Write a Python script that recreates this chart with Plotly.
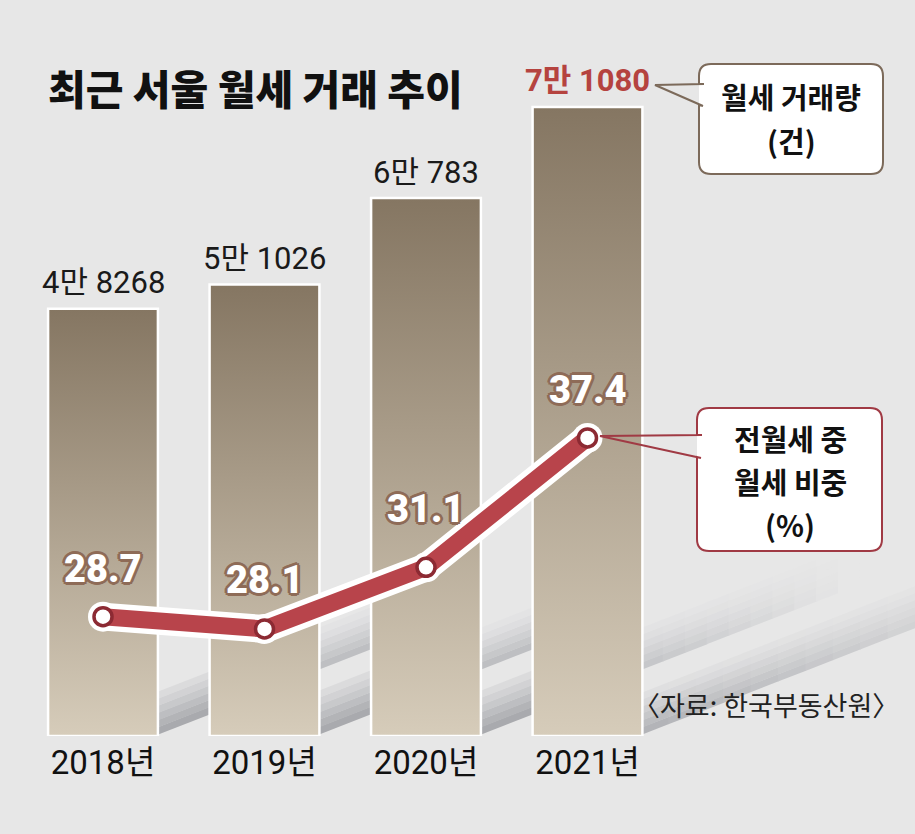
import plotly.graph_objects as go

# ---------------- data ----------------
years = ["2018년", "2019년", "2020년", "2021년"]
monthly_rent_deals = [48268, 51026, 60783, 71080]          # 월세 거래량 (건)
deal_labels = ["4만 8268", "5만 1026", "6만 783", "7만 1080"]
rent_share = [28.7, 28.1, 31.1, 37.4]                      # 전월세 중 월세 비중 (%)

title_text = "최근 서울 월세 거래 추이"
box1_lines = ["월세 거래량", "(건)"]
box2_lines = ["전월세 중", "월세 비중", "(%)"]
source_text = "〈자료: 한국부동산원〉"

# ---------------- layout constants ----------------
W, H = 915, 834
BG = "#e7e7e7"
NUM_FONT = "Roboto, Liberation Sans, Noto Sans CJK KR"
KR_FONT = "Noto Sans CJK KR, Noto Sans, sans-serif"


def px(x):
    return x / W


def py(y):
    return 1 - y / H


xs = list(range(len(years)))
half_w = 0.34

fig = go.Figure()

# bars with vertical gradient
for i, v in enumerate(monthly_rent_deals):
    fig.add_trace(go.Scatter(
        x=[i - half_w, i - half_w, i + half_w, i + half_w, i - half_w],
        y=[0, v, v, 0, 0],
        mode="lines", fill="toself",
        fillgradient=dict(type="vertical",
                          colorscale=[[0, "#d6ccba"], [1, "#857662"]]),
        line=dict(color="white", width=2.5),
        hoverinfo="skip", showlegend=False, yaxis="y"))

# line (white halo + red line + markers)
fig.add_trace(go.Scatter(
    x=xs, y=rent_share, mode="lines+markers", yaxis="y2",
    line=dict(color="white", width=28),
    marker=dict(size=30, color="white"),
    hoverinfo="skip", showlegend=False))
fig.add_trace(go.Scatter(
    x=xs, y=rent_share, mode="lines+markers", yaxis="y2",
    line=dict(color="#b8444b", width=17),
    marker=dict(size=18, color="white", line=dict(color="#8c2a33", width=3.5)),
    hoverinfo="skip", showlegend=False))

annotations = []

# title
annotations.append(dict(
    text=title_text, x=px(46), y=py(87), xref="paper", yref="paper",
    xanchor="left", yanchor="middle", showarrow=False,
    font=dict(family=KR_FONT, size=41, color="#111111", weight=900)))

# bar value labels
for i, (v, lab) in enumerate(zip(monthly_rent_deals, deal_labels)):
    last = i == len(monthly_rent_deals) - 1
    annotations.append(dict(
        text=lab, x=i, y=v, xref="x", yref="y", yanchor="middle", yshift=26,
        showarrow=False,
        font=dict(family=NUM_FONT, size=31,
                  color="#b5433f" if last else "#1a1a1a",
                  weight=700 if last else 400)))

# line value labels (white with brown outline)
outline = "#8e6b57"
shadow = ", ".join(f"{dx}px {dy}px 0 {outline}" for dx, dy in
                   [(2, 2), (-2, -2), (2, -2), (-2, 2), (0, 3), (0, -3), (3, 0), (-3, 0)])
label_shift = [48, 49, 58, 48]
for i, v in enumerate(rent_share):
    annotations.append(dict(
        text=f"{v:.1f}", x=i, y=v, xref="x", yref="y2", yanchor="middle",
        yshift=label_shift[i], showarrow=False,
        font=dict(family=NUM_FONT, size=38, color="white", weight=900,
                  shadow=shadow)))

# callout texts
for k, line in enumerate(box1_lines):
    annotations.append(dict(
        text=line, x=px(791), y=py(96 + 44 * k), xref="paper", yref="paper",
        xanchor="center", yanchor="middle", showarrow=False,
        font=dict(family=KR_FONT, size=29, color="#111111", weight=700)))
for k, line in enumerate(box2_lines):
    annotations.append(dict(
        text=line, x=px(790), y=py(438 + 43 * k), xref="paper", yref="paper",
        xanchor="center", yanchor="middle", showarrow=False,
        font=dict(family=KR_FONT, size=29, color="#111111", weight=700)))

# source
annotations.append(dict(
    text=source_text, x=px(901), y=py(704), xref="paper", yref="paper",
    xanchor="right", yanchor="middle", showarrow=False,
    font=dict(family=KR_FONT, size=27, color="#222222")))

# ---------------- decorative shapes ----------------
shapes = []


def hex2rgb(h):
    h = h.lstrip("#")
    return tuple(int(h[k:k + 2], 16) for k in (0, 2, 4))


def blend(c, f):
    a = hex2rgb(c)
    b = hex2rgb(BG)
    return "rgb({},{},{})".format(*[round(a[k] + (b[k] - a[k]) * f) for k in range(3)])


def pstr(pts):
    return " ".join(f"{'M' if j == 0 else 'L'}{px(x):.5f},{py(y):.5f}" for j, (x, y) in enumerate(pts)) + " Z"


def band(x0, x1, yb, thick, colors, slope=0.39, fade=0.0, nseg=1):
    n = len(colors)
    step = thick / n
    seg_w = (x1 - x0) / nseg
    for s in range(nseg):
        sx0 = x0 + s * seg_w
        sx1 = sx0 + seg_w + (0.6 if s < nseg - 1 else 0)
        f = fade * (s / max(nseg - 1, 1))
        for k, c in enumerate(colors):
            b = yb - k * step - slope * (sx0 - x0)
            t = b - step - (0.4 if k < n - 1 else 0)
            d = slope * (sx1 - sx0)
            pts = [(sx0, b), (sx1, b - d), (sx1, t - d), (sx0, t)]
            shapes.append(dict(type="path", path=pstr(pts), xref="paper", yref="paper",
                               fillcolor=blend(c, f), line=dict(width=0), layer="below"))


lower_cols = ["#a9aaae", "#b3b4b7", "#bdbec1", "#c8c9cb", "#d2d2d4", "#dbdbdc"]
upper_cols = ["#bebfc2", "#c7c8ca", "#cfd0d2", "#d7d7d9", "#dedee0", "#e3e3e4"]
band(157, 211, 735, 43, lower_cols)
band(318, 373, 735, 44, lower_cols)
band(318, 373, 670, 42, upper_cols)
band(480, 535, 735, 44, lower_cols)
band(480, 535, 670, 42, upper_cols)
band(641, 915, 735, 42, ["#b3b4b8", "#bcbdc0", "#c6c7c9", "#cfcfd1", "#d8d8da", "#dfdfe0"],
     fade=0.6, nseg=10)
band(641, 860, 670, 42, ["#c6c7ca", "#cdced0", "#d4d4d6", "#dadadc", "#dfdfe0", "#e3e3e4"],
     fade=1.0, nseg=10)


def rounded_rect_path(x0, y0, x1, y1, r):
    return (f"M{px(x0 + r):.5f},{py(y0):.5f} L{px(x1 - r):.5f},{py(y0):.5f} "
            f"Q{px(x1):.5f},{py(y0):.5f} {px(x1):.5f},{py(y0 + r):.5f} "
            f"L{px(x1):.5f},{py(y1 - r):.5f} Q{px(x1):.5f},{py(y1):.5f} {px(x1 - r):.5f},{py(y1):.5f} "
            f"L{px(x0 + r):.5f},{py(y1):.5f} Q{px(x0):.5f},{py(y1):.5f} {px(x0):.5f},{py(y1 - r):.5f} "
            f"L{px(x0):.5f},{py(y0 + r):.5f} Q{px(x0):.5f},{py(y0):.5f} {px(x0 + r):.5f},{py(y0):.5f} Z")


def callout_outline(x0, y0, x1, y1, r, t_top, t_bot, tip):
    tx, ty = tip
    return (f"M{px(x0 + 5):.5f},{py(t_top):.5f} L{px(x0):.5f},{py(t_top):.5f} "
            f"L{px(x0):.5f},{py(y0 + r):.5f} Q{px(x0):.5f},{py(y0):.5f} {px(x0 + r):.5f},{py(y0):.5f} "
            f"L{px(x1 - r):.5f},{py(y0):.5f} Q{px(x1):.5f},{py(y0):.5f} {px(x1):.5f},{py(y0 + r):.5f} "
            f"L{px(x1):.5f},{py(y1 - r):.5f} Q{px(x1):.5f},{py(y1):.5f} {px(x1 - r):.5f},{py(y1):.5f} "
            f"L{px(x0 + r):.5f},{py(y1):.5f} Q{px(x0):.5f},{py(y1):.5f} {px(x0):.5f},{py(y1 - r):.5f} "
            f"L{px(x0):.5f},{py(t_bot):.5f} L{px(x0 + 4):.5f},{py(t_bot + 1):.5f} "
            f"M{px(x0 + 4):.5f},{py(t_bot + 1):.5f} L{px(tx):.5f},{py(ty + 1):.5f} "
            f"L{px(x0 + 5):.5f},{py(t_top):.5f}")


for (x0, y0, x1, y1, t_top, t_bot, tip, col) in [
        (699, 64, 883, 174, 84, 105, (655, 84), "#7c6a5a"),
        (697, 408, 882, 551, 435, 457, (600, 435), "#a03a44")]:
    shapes.append(dict(type="path", path=rounded_rect_path(x0, y0, x1, y1, 12),
                       xref="paper", yref="paper", fillcolor="white",
                       line=dict(width=0), layer="above"))
    shapes.append(dict(type="path", path=callout_outline(x0, y0, x1, y1, 12, t_top, t_bot, tip),
                       xref="paper", yref="paper", fillcolor="rgba(0,0,0,0)",
                       line=dict(color=col, width=2), layer="above"))

x_lo = -103 / 161.5
x_hi = (W - 103) / 161.5
fig.update_layout(
    width=W, height=H,
    margin=dict(l=0, r=0, t=0, b=0),
    paper_bgcolor=BG, plot_bgcolor="rgba(0,0,0,0)",
    showlegend=False,
    xaxis=dict(range=[x_lo, x_hi], domain=[0, 1], tickmode="array",
               tickvals=xs, ticktext=years, showgrid=False, zeroline=False,
               showline=False, ticks="", ticklabelstandoff=4,
               tickfont=dict(family=NUM_FONT, size=33, color="#111111")),
    yaxis=dict(range=[0, 83170], domain=[(H - 736) / H, 1], visible=False),
    yaxis2=dict(range=[22.89, 58.72], domain=[(H - 736) / H, 1],
                overlaying="y", visible=False),
    annotations=annotations,
    shapes=shapes,
)

fig.write_html("out.html", config={"displayModeBar": False},
               post_script="document.body.style.margin='0px';document.body.style.background='#e7e7e7';")
